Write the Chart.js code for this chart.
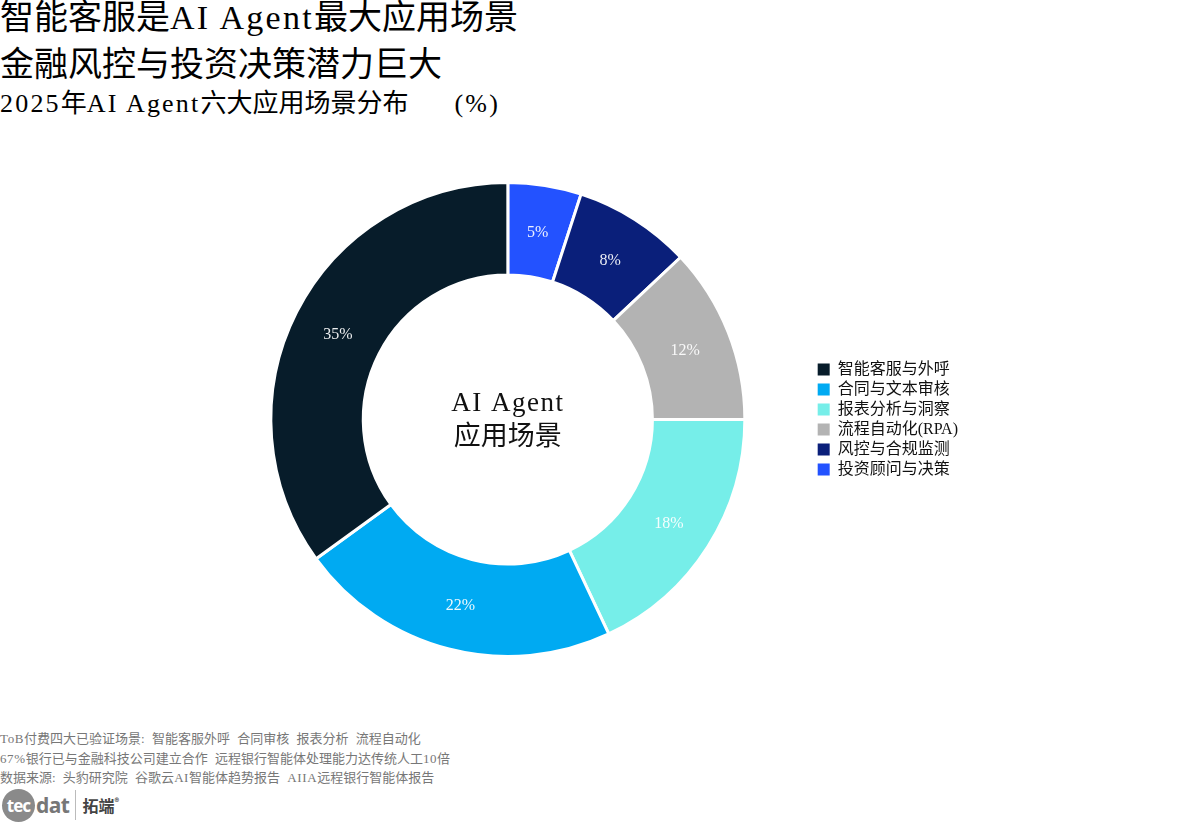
<!DOCTYPE html>
<html>
<head>
<meta charset="utf-8">
<script src="https://cdn.jsdelivr.net/npm/chart.js@4.4.1/dist/chart.umd.min.js"></script>
<style>
    body { margin: 0; width: 1177px; height: 824px; background: #fff; position: relative; overflow: hidden;
           font-family: "Liberation Serif", "Noto Sans CJK SC", serif; color: #000; }
    .t1, .t2, .sub { position: absolute; left: 0; white-space: pre; line-height: 1; }
    .t1 { top: 1px; font-size: 34px; }
    .t2 { top: 48px; font-size: 34px; }
    .sub { top: 91px; font-size: 26px; }
    .lat { letter-spacing: 2.3px; }
    .sub .lat { letter-spacing: 2.2px; }
    .sub .unit { margin-left: 46px; }
    #wrap { position: absolute; left: 0; top: 130px; width: 1177px; height: 580px; }
    .notes { position: absolute; left: 0; top: 729px; font-size: 13px; line-height: 19.5px; color: #777; white-space: pre; word-spacing: 4px; }
    .notes .lat { letter-spacing: 0.6px; }
    .logo { position: absolute; left: 2px; top: 788px; height: 34px; display: flex; align-items: center; font-family: "Noto Sans", sans-serif; }
    .logo .tec { width: 33px; height: 33px; border-radius: 50%; background: #8a8a8a; color: #fff; font-size: 17px; font-weight: bold;
                 display: flex; align-items: center; justify-content: center; letter-spacing: -1px; }
    .logo .dat { font-size: 21px; font-weight: bold; color: #777; margin-left: 1px; letter-spacing: -0.5px; }
    .logo .sep { width: 1px; height: 30px; background: #bbb; margin: 0 6px 0 6px; }
    .logo .cn { font-family: "Noto Sans CJK SC", sans-serif; font-size: 16px; font-weight: bold; color: #444; }
    .logo .cn sup { font-size: 9px; }
</style>
</head>
<body>
<div class="t1">智能客服是<span class="lat">AI Agent</span>最大应用场景</div>
<div class="t2">金融风控与投资决策潜力巨大</div>
<div class="sub"><span class="lat">2025</span>年<span class="lat">AI Agent</span>六大应用场景分布<span class="lat unit">(%)</span></div>
<div id="wrap"><canvas id="pieChart"></canvas></div>
<div class="notes"><span class="lat">ToB</span>付费四大已验证场景: 智能客服外呼 合同审核 报表分析 流程自动化
<span class="lat">67%</span>银行已与金融科技公司建立合作 远程银行智能体处理能力达传统人工<span class="lat">10</span>倍
数据来源: 头豹研究院 谷歌云<span class="lat">AI</span>智能体趋势报告 <span class="lat">AIIA</span>远程银行智能体报告</div>
<div class="logo"><div class="tec">tec</div><div class="dat">dat</div><div class="sep"></div><div class="cn">拓端<sup>®</sup></div></div>

<script>
// 场景（图例顺序）
const categories = ['智能客服与外呼', '合同与文本审核', '报表分析与洞察', '流程自动化(RPA)', '风控与合规监测', '投资顾问与决策'];
const shares = [35, 22, 18, 12, 8, 5];
const colors = ['#071C2A', '#00AAF2', '#76EEE9', '#B3B3B3', '#0A1F7A', '#2352FF'];
const centerLines = ['AI Agent', '应用场景'];

const FONT = '"Liberation Serif", "Noto Sans CJK SC", serif';

// 饼图按逆时针排列，所以数据集反转，图例再倒序
const drawLabels = categories.slice().reverse();
const drawValues = shares.slice().reverse();
const drawColors = colors.slice().reverse();

// 扇区内的百分比
const sliceLabels = {
    id: 'sliceLabels',
    afterDatasetsDraw(chart) {
        const ctx = chart.ctx;
        const meta = chart.getDatasetMeta(0);
        ctx.save();
        ctx.font = '16px ' + FONT;
        ctx.fillStyle = 'rgba(255,255,255,0.92)';
        ctx.textAlign = 'center';
        ctx.textBaseline = 'middle';
        meta.data.forEach((arc, i) => {
            const p = arc.tooltipPosition();
            ctx.fillText(drawValues[i] + '%', p.x, p.y + 2);
        });
        ctx.restore();
    }
};

// 中心文字
const centerText = {
    id: 'centerText',
    afterDatasetsDraw(chart) {
        const ctx = chart.ctx;
        const a = chart.chartArea;
        const cx = (a.left + a.right) / 2;
        const cy = (a.top + a.bottom) / 2;
        ctx.save();
        ctx.fillStyle = '#111';
        ctx.textAlign = 'center';
        ctx.textBaseline = 'middle';
        ctx.font = '27px ' + FONT;
        ctx.letterSpacing = '1.5px';
        ctx.fillText(centerLines[0], cx, cy - 16);
        ctx.letterSpacing = '0px';
        ctx.fillText(centerLines[1], cx, cy + 18);
        ctx.restore();
    }
};

new Chart(document.getElementById('pieChart'), {
    type: 'doughnut',
    data: {
        labels: drawLabels,
        datasets: [{
            data: drawValues,
            backgroundColor: drawColors,
            borderColor: '#ffffff',
            borderWidth: 3
        }]
    },
    options: {
        responsive: true,
        maintainAspectRatio: false,
        animation: false,
        cutout: '61%',
        layout: { padding: { top: 51, bottom: 52, left: 202, right: 209 } },
        plugins: {
            tooltip: { enabled: false },
            legend: {
                position: 'right',
                align: 'center',
                labels: {
                    color: '#111',
                    font: { family: FONT, size: 16 },
                    boxWidth: 12,
                    boxHeight: 12,
                    padding: 4,
                    sort: (a, b) => b.index - a.index,
                    generateLabels(chart) {
                        const items = Chart.overrides.doughnut.plugins.legend.labels.generateLabels(chart);
                        items.forEach(it => { it.lineWidth = 0; it.strokeStyle = it.fillStyle; });
                        return items;
                    }
                }
            }
        }
    },
    plugins: [sliceLabels, centerText]
});
</script>
</body>
</html>
